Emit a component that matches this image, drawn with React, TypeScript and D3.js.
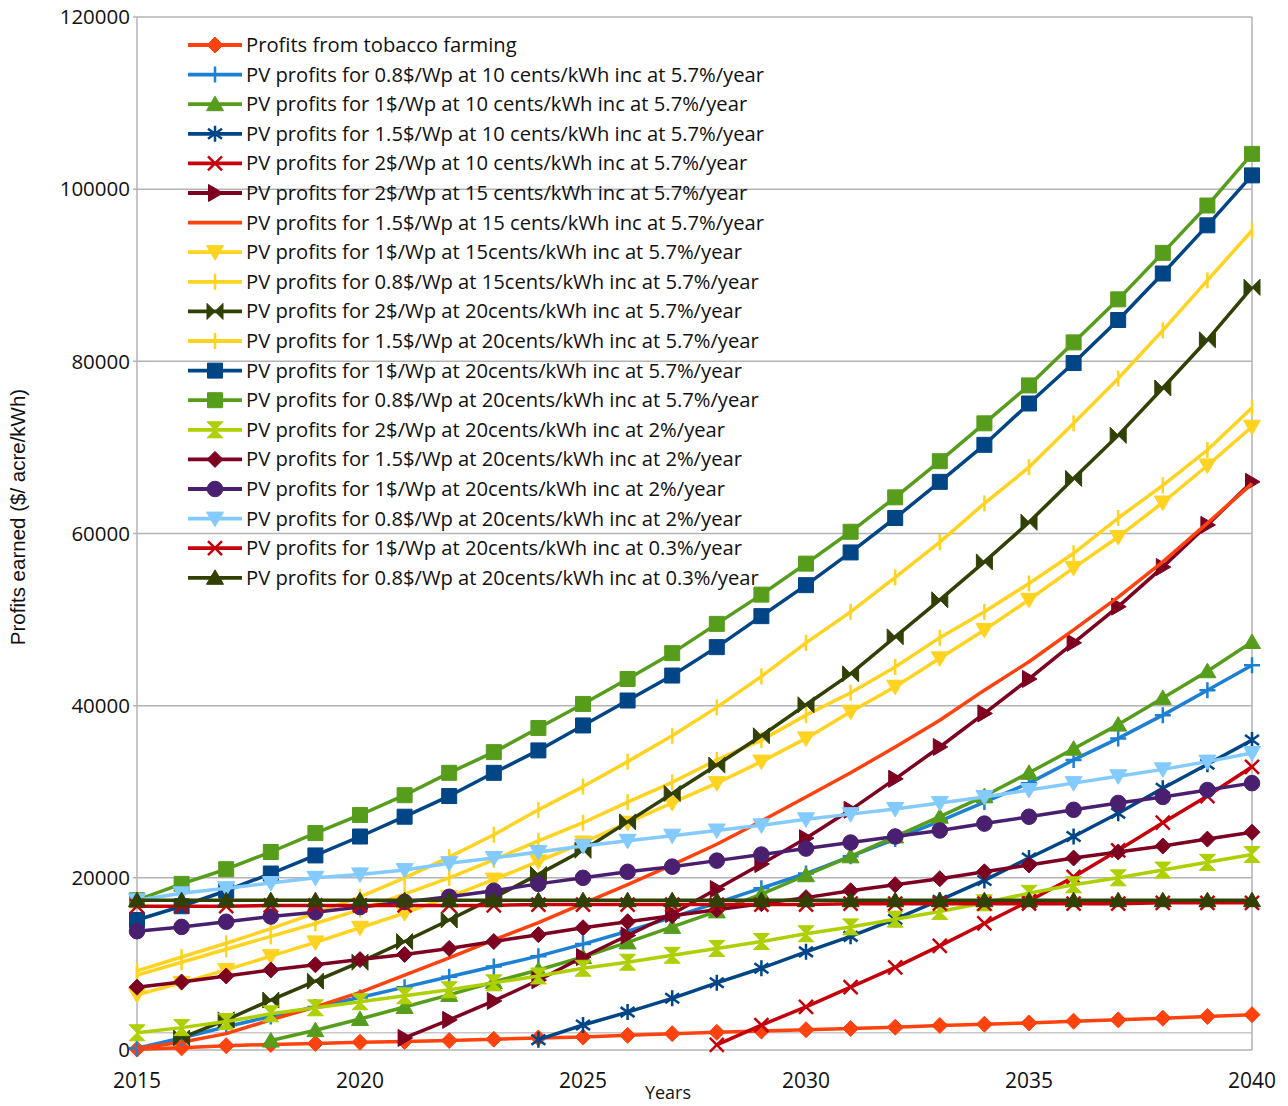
import React from 'react';
import * as d3 from 'd3';

// years on the x axis
const years = d3.range(2015, 2041);
const yTicks = [0, 20000, 40000, 60000, 80000, 100000, 120000];
const xTicks = [2015, 2020, 2025, 2030, 2035, 2040];

type V = number | null;

const tobacco: V[] = [100, 250, 500, 650, 750, 900, 1000, 1100, 1250, 1400, 1500, 1700, 1900, 2050, 2200, 2350, 2500, 2650, 2850, 3000, 3150, 3350, 3500, 3700, 3900, 4100];
const pv08c10: V[] = [200, 1400, 2700, 3900, 5000, 6100, 7300, 8500, 9700, 10900, 12300, 13800, 15400, 17100, 18800, 20500, 22500, 24500, 26600, 28800, 31000, 33700, 36200, 38900, 41800, 44700];
const pv1c10: V[] = [null, null, null, 1100, 2300, 3600, 5000, 6400, 7900, 9300, 10800, 12500, 14300, 16100, 18100, 20300, 22500, 24800, 27100, 29500, 32200, 35000, 37800, 40900, 44000, 47400];
const pv15c10: V[] = [null, null, null, null, null, null, null, null, null, 1200, 2900, 4400, 6000, 7800, 9500, 11400, 13200, 15200, 17400, 19700, 22300, 24800, 27500, 30400, 33200, 36000];
const pv2c10: V[] = [null, null, null, null, null, null, null, null, null, null, null, null, null, 600, 2900, 5000, 7300, 9600, 12100, 14700, 17300, 20100, 23200, 26400, 29500, 32900];
const pv2c15: V[] = [null, null, null, null, null, null, 1400, 3500, 5700, 8100, 10800, 13300, 15800, 18700, 21600, 24600, 27900, 31500, 35200, 39100, 43100, 47300, 51500, 56100, 61000, 66000];
const pv15c15: V[] = [200, 900, 1900, 3500, 5000, 6700, 8700, 10700, 12800, 14800, 17000, 19200, 21500, 23900, 26600, 29400, 32200, 35200, 38300, 41800, 45100, 48800, 52600, 56700, 61200, 65800];
const pv1c15: V[] = [6400, 7800, 9300, 10900, 12500, 14200, 15900, 17800, 19800, 21900, 24100, 26400, 28700, 31000, 33500, 36200, 39300, 42200, 45500, 48800, 52300, 56000, 59600, 63600, 67900, 72400];
const pv08c15: V[] = [8700, 10200, 11700, 13200, 14700, 16300, 18100, 20000, 22100, 24300, 26400, 28800, 31100, 33700, 36000, 38900, 41500, 44500, 47900, 50900, 54200, 57700, 61800, 65600, 69700, 74600];
const pv2c20: V[] = [null, 1400, 3500, 5800, 8000, 10200, 12600, 15100, 17700, 20400, 23200, 26500, 29800, 33100, 36500, 40100, 43700, 48000, 52300, 56700, 61300, 66400, 71400, 76900, 82500, 88600];
const pv15c20: V[] = [9200, 10800, 12400, 14100, 15900, 17800, 20000, 22400, 25000, 27900, 30600, 33500, 36500, 39800, 43400, 47300, 50900, 54900, 59000, 63500, 67700, 72800, 78000, 83600, 89400, 95200];
const pv1c20: V[] = [15100, 16700, 18500, 20500, 22600, 24800, 27100, 29500, 32200, 34800, 37700, 40600, 43500, 46800, 50400, 54000, 57800, 61800, 66000, 70300, 75100, 79800, 84800, 90200, 95800, 101600];
const pv08c20: V[] = [17400, 19300, 21000, 23000, 25200, 27300, 29600, 32200, 34600, 37400, 40200, 43100, 46100, 49500, 52900, 56500, 60200, 64200, 68400, 72800, 77200, 82200, 87200, 92600, 98100, 104100];
const pv2c20r2: V[] = [2000, 2600, 3300, 4200, 4900, 5600, 6300, 7000, 7800, 8600, 9500, 10200, 11000, 11800, 12600, 13500, 14300, 15200, 16100, 17100, 18200, 19200, 20000, 20900, 21800, 22700];
const pv15c20r2: V[] = [7300, 7900, 8600, 9300, 9900, 10500, 11100, 11800, 12600, 13400, 14200, 14900, 15600, 16300, 17000, 17700, 18500, 19200, 19900, 20700, 21500, 22300, 23000, 23700, 24500, 25300];
const pv1c20r2: V[] = [13800, 14300, 14900, 15500, 16000, 16600, 17200, 17800, 18500, 19300, 20000, 20700, 21300, 22000, 22700, 23400, 24100, 24800, 25500, 26300, 27100, 27900, 28700, 29400, 30200, 31000];
const pv08c20r2: V[] = [17400, 18200, 18800, 19400, 20000, 20400, 20900, 21700, 22300, 23000, 23700, 24300, 24900, 25500, 26100, 26800, 27400, 28000, 28700, 29400, 30200, 31000, 31800, 32600, 33500, 34500];
const pv1c20r03: V[] = [16700, 16700, 16700, 16800, 16800, 16800, 16800, 16800, 16800, 16900, 16900, 16900, 16900, 16900, 16900, 16900, 17000, 17000, 17000, 17000, 17000, 17000, 17000, 17100, 17100, 17100];
const pv08c20r03: V[] = [17400, 17400, 17400, 17400, 17400, 17400, 17400, 17400, 17400, 17400, 17400, 17400, 17400, 17400, 17400, 17400, 17400, 17400, 17400, 17400, 17400, 17400, 17400, 17400, 17400, 17400];

const seriesLabels = [
  'Profits from tobacco farming',
  'PV profits for 0.8$/Wp at 10 cents/kWh inc at 5.7%/year',
  'PV profits for 1$/Wp at 10 cents/kWh inc at 5.7%/year',
  'PV profits for 1.5$/Wp at 10 cents/kWh inc at 5.7%/year',
  'PV profits for 2$/Wp at 10 cents/kWh inc at 5.7%/year',
  'PV profits for 2$/Wp at 15 cents/kWh inc at 5.7%/year',
  'PV profits for 1.5$/Wp at 15 cents/kWh inc at 5.7%/year',
  'PV profits for 1$/Wp at 15cents/kWh inc at 5.7%/year',
  'PV profits for 0.8$/Wp at 15cents/kWh inc at 5.7%/year',
  'PV profits for 2$/Wp at 20cents/kWh inc at 5.7%/year',
  'PV profits for 1.5$/Wp at 20cents/kWh inc at 5.7%/year',
  'PV profits for 1$/Wp at 20cents/kWh inc at 5.7%/year',
  'PV profits for 0.8$/Wp at 20cents/kWh inc at 5.7%/year',
  'PV profits for 2$/Wp at 20cents/kWh inc at 2%/year',
  'PV profits for 1.5$/Wp at 20cents/kWh inc at 2%/year',
  'PV profits for 1$/Wp at 20cents/kWh inc at 2%/year',
  'PV profits for 0.8$/Wp at 20cents/kWh inc at 2%/year',
  'PV profits for 1$/Wp at 20cents/kWh inc at 0.3%/year',
  'PV profits for 0.8$/Wp at 20cents/kWh inc at 0.3%/year',
];

const seriesValues = [
  tobacco, pv08c10, pv1c10, pv15c10, pv2c10, pv2c15, pv15c15, pv1c15, pv08c15,
  pv2c20, pv15c20, pv1c20, pv08c20, pv2c20r2, pv15c20r2, pv1c20r2, pv08c20r2,
  pv1c20r03, pv08c20r03,
];

const seriesColors = [
  '#ff420e', '#1c80d4', '#579d1c', '#004586', '#c5000b', '#7e0021', '#ff420e',
  '#ffd320', '#ffd320', '#314004', '#ffd320', '#004586', '#579d1c', '#aecf00',
  '#7e0021', '#4b1f6f', '#83caff', '#c5000b', '#314004',
];

const seriesMarkers = [
  'diamond', 'plus', 'triUp', 'asterisk', 'x', 'triRight', 'none', 'triDown', 'vbar',
  'bowtie', 'vbar', 'square', 'square', 'hourglass', 'diamond', 'circle', 'triDown',
  'x', 'triUp',
];

// marker shapes: [path, filled?]
const markerShape = (m: string): [string, boolean] => {
  switch (m) {
    case 'diamond': return ['M0,-8L8,0L0,8L-8,0Z', true];
    case 'square': return ['M-7.5,-7.5H7.5V7.5H-7.5Z', true];
    case 'triUp': return ['M0,-8L8.5,6.5L-8.5,6.5Z', true];
    case 'triDown': return ['M0,8L8.5,-6.5L-8.5,-6.5Z', true];
    case 'triRight': return ['M8,0L-6.5,-8.5L-6.5,8.5Z', true];
    case 'bowtie': return ['M-8,-8L0,0L-8,8Z M8,-8L0,0L8,8Z', true];
    case 'hourglass': return ['M-8,-8L8,-8L0,0Z M-8,8L8,8L0,0Z', true];
    case 'circle': return [d3.symbol(d3.symbolCircle, 190)() as string, true];
    case 'plus': return ['M0,-8V8M-8,0H8', false];
    case 'x': return ['M-7,-7L7,7M-7,7L7,-7', false];
    case 'asterisk': return ['M0,-8V8M-7,-5L7,5M-7,5L7,-5', false];
    case 'vbar': return ['M0,-8V8', false];
    default: return ['', false];
  }
};

const W = 1288;
const H = 1106;
const margin = { left: 137, right: 36, top: 17, bottom: 56 };

const Marker: React.FC<{ m: string; color: string; x: number; y: number }> = ({ m, color, x, y }) => {
  const [d, filled] = markerShape(m);
  if (!d) return null;
  return (
    <path
      d={d}
      transform={`translate(${x},${y})`}
      fill={filled ? color : 'none'}
      stroke={color}
      strokeWidth={filled ? 1 : 2.5}
    />
  );
};

export default function App() {
  const x = d3.scaleLinear().domain([2015, 2040]).range([margin.left, W - margin.right]);
  const y = d3.scaleLinear().domain([0, 120000]).range([H - margin.bottom, margin.top]);

  const line = d3.line<[number, V]>()
    .defined(d => d[1] !== null)
    .x(d => x(d[0]))
    .y(d => y(d[1] as number));

  const font = '"Open Sans", "DejaVu Sans", sans-serif';

  return (
    <svg width={W} height={H} style={{ position: 'absolute', left: 0, top: 0, background: '#fff' }}>
      {/* grid */}
      {yTicks.map(t => (
        <line key={t} x1={margin.left - 4} x2={W - margin.right} y1={y(t)} y2={y(t)} stroke="#b3b3b3" strokeWidth={1.5} />
      ))}
      <line x1={margin.left} x2={W - margin.right} y1={y(2000)} y2={y(2000)} stroke="#c8c8c8" strokeWidth={1.5} />
      <line x1={margin.left} x2={margin.left} y1={y(120000)} y2={y(0)} stroke="#b3b3b3" strokeWidth={1.5} />
      <line x1={W - margin.right} x2={W - margin.right} y1={y(120000)} y2={y(0)} stroke="#b3b3b3" strokeWidth={1.5} />

      {/* series */}
      {seriesValues.map((vals, i) => {
        const pts = years.map((yr, j) => [yr, vals[j]] as [number, V]);
        return (
          <g key={i}>
            <path d={line(pts) || ''} fill="none" stroke={seriesColors[i]} strokeWidth={3.5} strokeLinejoin="round" />
            {pts.filter(p => p[1] !== null).map(p => (
              <Marker key={p[0]} m={seriesMarkers[i]} color={seriesColors[i]} x={x(p[0])} y={y(p[1] as number)} />
            ))}
          </g>
        );
      })}

      {/* legend */}
      {seriesLabels.map((lab, i) => {
        const ly = 45 + i * 29.6;
        return (
          <g key={lab}>
            <line x1={188} x2={242} y1={ly} y2={ly} stroke={seriesColors[i]} strokeWidth={3.8} />
            <Marker m={seriesMarkers[i]} color={seriesColors[i]} x={215} y={ly} />
            <text x={246} y={ly} dy="0.35em" fontFamily={font} fontSize={20.2} fill="#111">{lab}</text>
          </g>
        );
      })}

      {/* y axis labels */}
      {yTicks.map(t => (
        <text key={t} x={130} y={y(t)} dy="0.35em" textAnchor="end" fontFamily={font} fontSize={20.5} fill="#111">{t}</text>
      ))}
      {/* x axis labels */}
      {xTicks.map(t => (
        <text key={t} x={x(t)} y={1081} dy="0.35em" textAnchor="middle" fontFamily={font} fontSize={21} fill="#111">{t}</text>
      ))}
      <text x={668} y={1093} dy="0.35em" textAnchor="middle" fontFamily={font} fontSize={18} fill="#111">Years</text>
      <text transform="translate(18,517) rotate(-90)" dy="0.35em" textAnchor="middle" fontFamily='"Liberation Sans Narrow", "Liberation Sans", sans-serif' fontSize={20.5} fill="#111">
        Profits earned ($/ acre/kWh)
      </text>
    </svg>
  );
}
